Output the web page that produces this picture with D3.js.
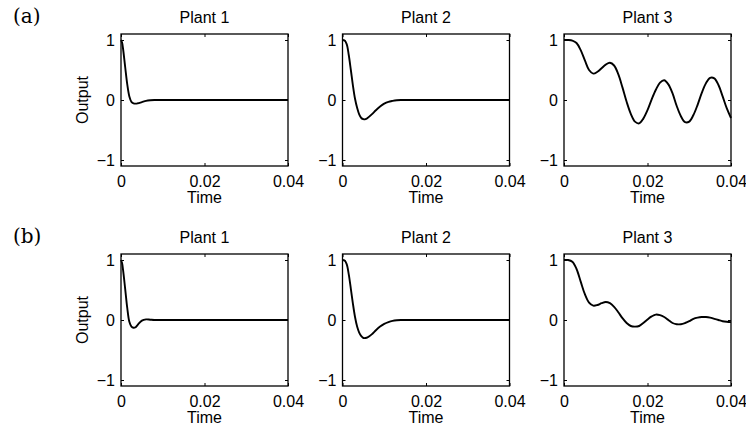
<!DOCTYPE html>
<html>
<head>
<meta charset="utf-8">
<script src="https://cdn.jsdelivr.net/npm/d3@7"></script>
<style>
  html, body { margin: 0; padding: 0; background: #fff; }
  svg { display: block; }
  text { font-family: "Liberation Sans", Arial, Helvetica, sans-serif; fill: #000; }
</style>
</head>
<body>
<svg id="chart" width="746" height="429"></svg>
<script>
// ---- data (time in milliseconds, output dimensionless) ----
const rowLabels = ["(a)", "(b)"];
const plantTitles = ["Plant 1", "Plant 2", "Plant 3"];
const xTicks = [0, 0.02, 0.04];
const yTicks = [-1, 0, 1];
const xLabel = "Time";
const yLabel = "Output";

const plant1TimeMs = [0, 0.25, 0.5, 1, 1.5, 2, 2.5, 3, 3.5, 4, 5, 6, 7, 8, 10, 40];
const a_plant1 = [1.0, 0.96, 0.85, 0.55, 0.26, 0.06, -0.03, -0.055, -0.06, -0.055, -0.035, -0.015, -0.005, 0, 0, 0];
const b_plant1 = [1.0, 0.95, 0.83, 0.52, 0.20, -0.03, -0.11, -0.13, -0.12, -0.08, -0.01, 0.01, 0.005, 0, 0, 0];

const plant2TimeMs = [0, 0.5, 1, 1.5, 2, 2.5, 3, 3.5, 4, 4.5, 5, 5.5, 6, 7, 8, 9, 10, 11, 12, 13, 14, 16, 40];
const a_plant2 = [1.0, 0.99, 0.93, 0.75, 0.50, 0.24, 0.02, -0.13, -0.24, -0.30, -0.32, -0.32, -0.30, -0.24, -0.17, -0.11, -0.06, -0.03, -0.015, -0.005, 0, 0, 0];
const b_plant2 = [1.0, 0.99, 0.93, 0.76, 0.52, 0.27, 0.05, -0.11, -0.21, -0.27, -0.30, -0.30, -0.29, -0.24, -0.17, -0.11, -0.065, -0.035, -0.015, -0.005, 0, 0, 0];

const plant3TimeMs = [0,1,2,3,4,5,6,7,8,9,10,11,12,13,14,15,16,17,18,19,20,21,22,23,24,25,26,27,28,29,30,31,32,33,34,35,36,37,38,39,40];
const a_plant3 = [1.0, 1.0, 0.99, 0.95, 0.83, 0.66, 0.50, 0.44, 0.47, 0.53, 0.59, 0.62, 0.575, 0.43, 0.21, -0.03, -0.23, -0.36, -0.39, -0.31, -0.17, 0.01, 0.17, 0.29, 0.33, 0.26, 0.11, -0.10, -0.27, -0.37, -0.36, -0.25, -0.08, 0.12, 0.28, 0.37, 0.36, 0.25, 0.06, -0.14, -0.30];
const b_plant3 = [1.0, 1.0, 0.97, 0.85, 0.64, 0.43, 0.29, 0.24, 0.25, 0.28, 0.30, 0.28, 0.22, 0.13, 0.03, -0.05, -0.10, -0.11, -0.10, -0.05, 0.01, 0.06, 0.09, 0.08, 0.05, 0.00, -0.05, -0.07, -0.07, -0.05, -0.02, 0.02, 0.04, 0.05, 0.05, 0.04, 0.02, 0.00, -0.02, -0.03, -0.035];

const panels = [
  [[plant1TimeMs, a_plant1], [plant2TimeMs, a_plant2], [plant3TimeMs, a_plant3]],
  [[plant1TimeMs, b_plant1], [plant2TimeMs, b_plant2], [plant3TimeMs, b_plant3]]
];

// ---- layout ----
const panelLefts = [121, 342.5, 564];
const rowTops = [34, 254];
const pw = 167, ph = 132;
const fontSize = 16;

const svg = d3.select("#chart");

const x = d3.scaleLinear().domain([0, 0.04]).range([0, pw]);
const y = d3.scaleLinear().domain([-1.1, 1.1]).range([ph, 0]);
const xFmt = d => d === 0 ? "0" : d3.format(".2f")(d);
const yFmt = d3.format("d");

const line = d3.line()
  .x(d => x(d[0] / 1000))
  .y(d => y(d[1]))
  .curve(d3.curveCatmullRom.alpha(0.5));

rowTops.forEach((top, r) => {
  svg.append("text")
    .attr("x", 13).attr("y", top - 11.5)
    .style("font-family", '"DejaVu Serif", "Liberation Serif", serif')
    .style("font-size", "20px")
    .text(rowLabels[r]);

  panelLefts.forEach((left, c) => {
    const g = svg.append("g").attr("transform", `translate(${left},${top})`);
    const [tArr, vArr] = panels[r][c];
    const pts = tArr.map((t, i) => [t, vArr[i]]);

    g.append("path")
      .datum(pts)
      .attr("fill", "none")
      .attr("stroke", "#000")
      .attr("stroke-width", 1.9)
      .attr("stroke-linejoin", "round")
      .attr("d", line);

    // bottom axis with labels, ticks inside
    const gb = g.append("g").attr("transform", `translate(0,${ph})`)
      .call(d3.axisBottom(x).tickValues(xTicks).tickFormat(xFmt).tickSizeInner(-3).tickSizeOuter(0).tickPadding(10));
    // left axis
    const gl = g.append("g")
      .call(d3.axisLeft(y).tickValues(yTicks).tickFormat(yFmt).tickSizeInner(-3).tickSizeOuter(0).tickPadding(6));
    // top & right ticks
    const gt = g.append("g")
      .call(d3.axisTop(x).tickValues(xTicks).tickFormat("").tickSizeInner(-3).tickSizeOuter(0));
    const gr = g.append("g").attr("transform", `translate(${pw},0)`)
      .call(d3.axisRight(y).tickValues(yTicks).tickFormat("").tickSizeInner(-3).tickSizeOuter(0));

    [gb, gl, gt, gr].forEach(ax => {
      ax.select(".domain").remove();
      ax.selectAll("line").attr("stroke", "#000").attr("stroke-width", 1);
      ax.selectAll("text")
        .style("font-family", '"Liberation Sans", Arial, Helvetica, sans-serif')
        .style("font-size", fontSize + "px")
        .attr("fill", "#000");
    });

    g.append("rect")
      .attr("x", 0).attr("y", 0).attr("width", pw).attr("height", ph)
      .attr("fill", "none").attr("stroke", "#000").attr("stroke-width", 1.3);

    g.append("text")
      .attr("x", pw / 2).attr("y", -11.5)
      .attr("text-anchor", "middle")
      .style("font-size", fontSize + "px")
      .text(plantTitles[c]);

    g.append("text")
      .attr("x", pw / 2).attr("y", ph + 37)
      .attr("text-anchor", "middle")
      .style("font-size", fontSize + "px")
      .text(xLabel);

    if (c === 0) {
      g.append("text")
        .attr("transform", `translate(${-33},${ph / 2}) rotate(-90)`)
        .attr("text-anchor", "middle")
        .style("font-size", fontSize + "px")
        .text(yLabel);
    }
  });
});
</script>
</body>
</html>
